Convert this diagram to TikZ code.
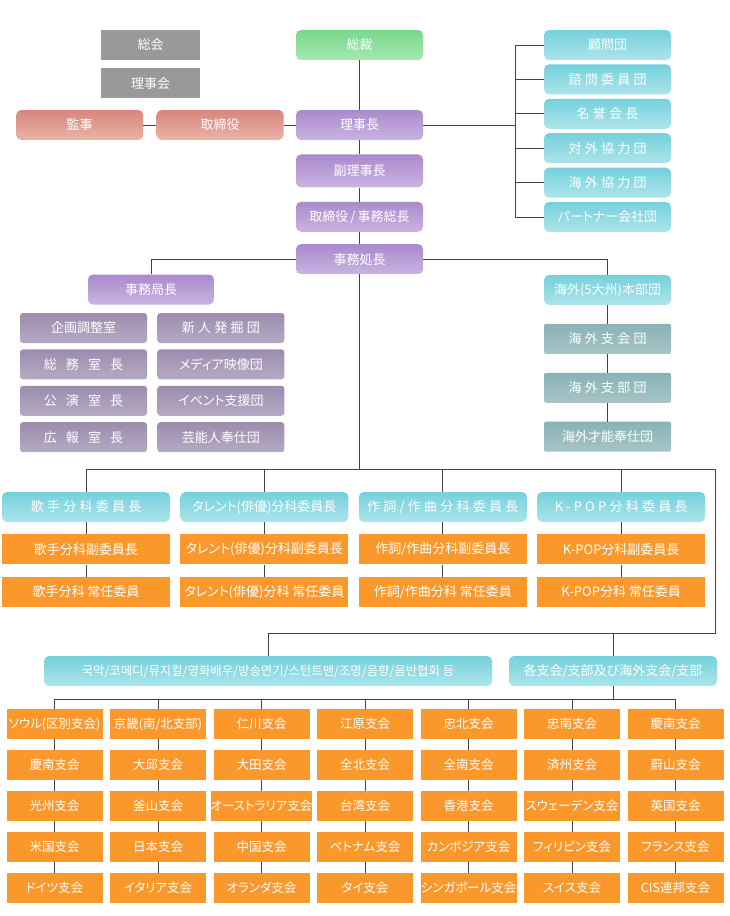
\documentclass[tikz,border=0pt]{standalone}
\usepackage{fontspec}
\setmainfont[RawFeature=+palt]{Noto Sans CJK JP}
\newfontfamily\jpwide[RawFeature=+palt, LetterSpace=25]{Noto Sans CJK JP}
\newfontfamily\jpwider[LetterSpace=70]{Noto Sans CJK JP}
\newfontfamily\krfont{Noto Sans CJK KR}
\usepackage{tikz}
\usetikzlibrary{positioning}

\definecolor{lineC}{HTML}{444444}
\definecolor{grayC}{HTML}{999999}
\definecolor{greenT}{HTML}{78D98A}
\definecolor{greenB}{HTML}{A8E7B2}
\definecolor{salmonT}{HTML}{D8867B}
\definecolor{salmonB}{HTML}{E9B4A9}
\definecolor{purpleT}{HTML}{A98ACB}
\definecolor{purpleB}{HTML}{CAB4E2}
\definecolor{cyanT}{HTML}{74D1DC}
\definecolor{cyanB}{HTML}{AEE4EA}
\definecolor{mauveT}{HTML}{9C8CAE}
\definecolor{mauveB}{HTML}{B5AAC3}
\definecolor{tealT}{HTML}{87B3B7}
\definecolor{tealB}{HTML}{A8C4C6}
\definecolor{orangeC}{HTML}{FB982C}

\begin{document}
\begin{tikzpicture}[
    x=1pt, y=-1pt,
    % Styles
    box/.style={rectangle, minimum width=127pt, minimum height=30pt, inner sep=0pt, text=white, font=\fontsize{13}{15}\selectfont},
    wide/.style={font=\jpwide\fontsize{13}{15}\selectfont},
    wider/.style={font=\jpwider\fontsize{13}{15}\selectfont},
    graybox/.style={box, fill=grayC, minimum width=99pt},
    greenbox/.style={box, rounded corners=5pt, top color=greenT, bottom color=greenB},
    salmonbox/.style={box, rounded corners=5pt, top color=salmonT, bottom color=salmonB},
    purplebox/.style={box, rounded corners=5pt, top color=purpleT, bottom color=purpleB},
    cyanbox/.style={box, rounded corners=5pt, top color=cyanT, bottom color=cyanB},
    mauvebox/.style={box, rounded corners=3pt, top color=mauveT, bottom color=mauveB},
    tealbox/.style={box, rounded corners=2pt, top color=tealT, bottom color=tealB},
    orangebox/.style={box, fill=orangeC, minimum width=168pt},
    branch/.style={box, fill=orangeC, minimum width=96pt, font=\fontsize{12.5}{14}\selectfont},
    link/.style={draw=lineC, line width=1pt}
]
\useasboundingbox (0,0) rectangle (730,916);

% ------------------- TOP: BOARD -------------------
\node[graybox] (gen) at (150.5,45) {総会};
\node[graybox, below=8pt of gen] (board) {理事会};
\node[greenbox] (pres) at (359.5,45) {総裁};
\node[purplebox] (chair) at (359.5,125) {理事長};
\node[salmonbox, left=12pt of chair] (director) {取締役};
\node[salmonbox, left=13pt of director] (auditor) {監事};
\node[purplebox, below=14pt of chair, minimum height=33pt] (vice) {副理事長};
\node[purplebox, below=14pt of vice] (secgen) {取締役\,/\,事務総長};
\node[purplebox, below=12pt of secgen] (office) {事務処長};

\draw[link] (pres) -- (chair);
\draw[link] (auditor) -- (director) -- (chair);
\draw[link] (chair) -- (vice) -- (secgen) -- (office);

% ------------------- ADVISORY -------------------
\node[cyanbox] (adv1) at (607.5,45) {顧問団};
\node[cyanbox, wide, below=4pt of adv1] (adv2) {諮問委員団};
\node[cyanbox, wide, below=4pt of adv2] (adv3) {名誉会長};
\node[cyanbox, wide, below=4pt of adv3] (adv4) {対外協力団};
\node[cyanbox, wide, below=4pt of adv4] (adv5) {海外協力団};
\node[cyanbox, below=4pt of adv5] (adv6) {パートナー会社団};

\coordinate (abus) at (515,125);
\draw[link] (chair) -- (abus);
\draw[link] (adv1.west -| abus) -- (adv6.west -| abus);
\foreach \i in {1,...,6}
  \draw[link] (adv\i) -- (adv\i.west -| abus);

% ------------------- SECRETARIAT -------------------
\node[purplebox, minimum width=126pt] (bureau) at (151,289.5) {事務局長};
\node[mauvebox] (bs1) at (83.5,328) {企画調整室};
\node[mauvebox, wider, below=6pt of bs1] (bs2) {総務室長};
\node[mauvebox, wider, below=6pt of bs2] (bs3) {公演室長};
\node[mauvebox, wider, below=6pt of bs3] (bs4) {広報室長};
\node[mauvebox, wide, right=10pt of bs1] (bt1) {新人発掘団};
\node[mauvebox, right=10pt of bs2] (bt2) {メディア映像団};
\node[mauvebox, right=10pt of bs3] (bt3) {イベント支援団};
\node[mauvebox, right=10pt of bs4] (bt4) {芸能人奉仕団};

\draw[link] (office) -| (bureau);

% ------------------- OVERSEAS -------------------
\node[cyanbox] (ov1) at (607.5,290) {海外(5大州)本部団};
\node[tealbox, wide, below=18.5pt of ov1] (ov2) {海外支会団};
\node[tealbox, wide, below=18.5pt of ov2] (ov3) {海外支部団};
\node[tealbox, below=18.5pt of ov3] (ov4) {海外才能奉仕団};

\draw[link] (office) -| (ov1);
\draw[link] (ov1) -- (ov2) -- (ov3) -- (ov4);

% ------------------- COMMITTEES -------------------
\node[cyanbox, wide, minimum width=168pt] (kc1) at (86,507) {歌手分科委員長};
\node[orangebox, below=12pt of kc1] (kv1) {歌手分科副委員長};
\node[orangebox, below=12pt of kv1] (ks1) {歌手分科 常任委員};
\node[cyanbox, minimum width=168pt, right=10pt of kc1] (kc2) {タレント(俳優)分科委員長};
\node[orangebox, below=12pt of kc2] (kv2) {タレント(俳優)分科副委員長};
\node[orangebox, below=12pt of kv2] (ks2) {タレント(俳優)分科 常任委員};
\node[cyanbox, wide, minimum width=168pt, right=10pt of kc2] (kc3) {作詞/作曲分科委員長};
\node[orangebox, below=12pt of kc3] (kv3) {作詞/作曲分科副委員長};
\node[orangebox, below=12pt of kv3] (ks3) {作詞/作曲分科 常任委員};
\node[cyanbox, wide, minimum width=168pt, right=10pt of kc3] (kc4) {K-POP分科委員長};
\node[orangebox, below=12pt of kc4] (kv4) {K-POP分科副委員長};
\node[orangebox, below=12pt of kv4] (ks4) {K-POP分科 常任委員};

\coordinate (kbus) at (0,469);
\coordinate (rturn) at (715,469);
\coordinate (lturn) at (715,633);
\draw[link] (office) -- (office |- kbus);
\foreach \i in {1,...,4}
  \draw[link] (kc\i.north |- kbus) -- (kc\i) -- (kv\i) -- (ks\i);

% ------------------- BRANCHES -------------------
\node[cyanbox, minimum width=448pt, font=\krfont\fontsize{12.4}{14}\selectfont] (genre) at (268,671) {국악/코메디/뮤지컬/영화배우/방송연기/스턴트맨/조명/음향/음반협회 등};
\node[cyanbox, minimum width=208pt] (local) at (613,671) {各支会/支部及び海外支会/支部};

\draw[link] (kc1.north |- kbus) -- (rturn) -- (lturn) -| (genre);
\draw[link] (local) -- (local |- lturn);

\foreach \rowlist [count=\rw] in {
  {ソウル(区別支会),京畿(南/北支部),仁川支会,江原支会,忠北支会,忠南支会,慶南支会},
  {慶南支会,大邱支会,大田支会,全北支会,全南支会,済州支会,蔚山支会},
  {光州支会,釜山支会,オーストラリア支会,台湾支会,香港支会,スウェーデン支会,英国支会},
  {米国支会,日本支会,中国支会,ベトナム支会,カンボジア支会,フィリピン支会,フランス支会},
  {ドイツ支会,イタリア支会,オランダ支会,タイ支会,シンガポール支会,スイス支会,CIS連邦支会}}
{
  \foreach \txt [count=\cl] in \rowlist
    \node[branch] (g-\rw-\cl) at ({54.5+103.5*(\cl-1)},{724+41*(\rw-1)}) {\txt};
}

\coordinate (gbus) at (0,699);
\draw[link] (local) -- (local |- gbus);
\draw[link] (g-1-1.north |- gbus) -- (g-1-7.north |- gbus);
\foreach \cl in {1,...,7} {
  \draw[link] (g-1-\cl) -- (g-1-\cl.north |- gbus);
  \foreach \rw [evaluate=\rw as \nx using int(\rw+1)] in {1,...,4}
    \draw[link] (g-\rw-\cl) -- (g-\nx-\cl);
}
\foreach \rw in {1,...,5}
  \foreach \cl [evaluate=\cl as \nx using int(\cl+1)] in {1,...,6}
    \draw[link] (g-\rw-\cl) -- (g-\rw-\nx);

\end{tikzpicture}
\end{document}
